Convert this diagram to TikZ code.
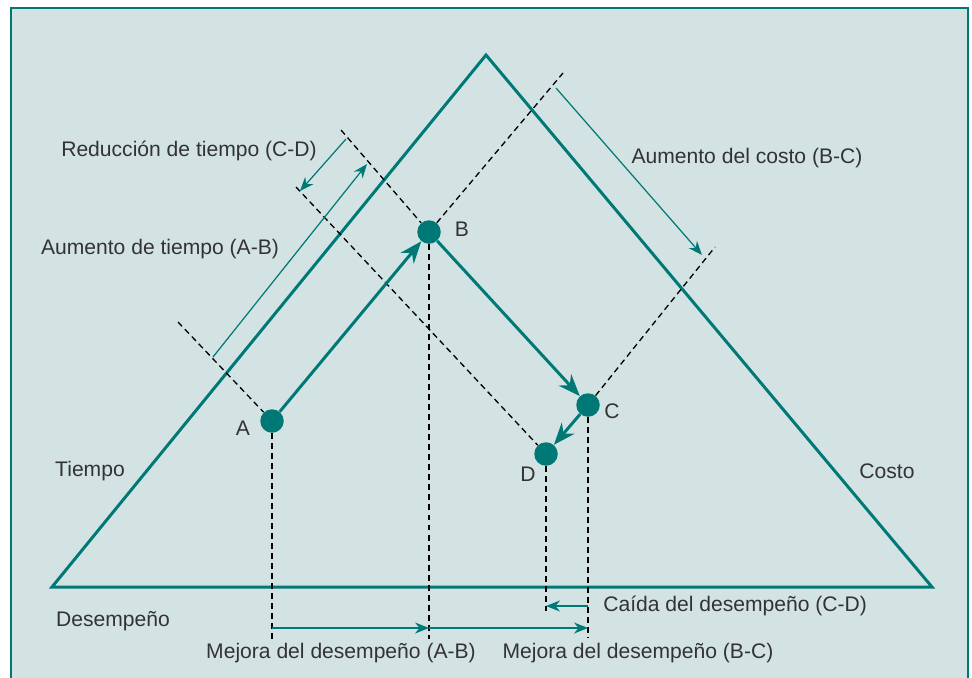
\documentclass[tikz,border=0pt]{standalone}
\usepackage{fontspec}
\setmainfont{Liberation Sans}
\usetikzlibrary{arrows.meta, positioning}
\definecolor{petrol}{RGB}{0,120,118}
\definecolor{panel}{RGB}{211,227,227}
\definecolor{ink}{RGB}{51,51,51}
\tikzset{
	x=0.02cm, y=-0.02cm,
	dot/.style={circle, fill=petrol, minimum size=0.47cm, inner sep=0pt},
	lbl/.style={text=ink, font=\fontsize{12}{14}\selectfont, inner sep=0pt},
	guide/.style={line width=0.75pt, dash pattern=on 3.4pt off 2.3pt},
	move/.style={petrol, line width=1.7pt, -{Stealth[length=0.44cm, width=0.34cm]}},
	dimarrow/.style={petrol, line width=0.7pt, -{Stealth[length=0.28cm, width=0.22cm]}}}

\begin{document}
\begin{tikzpicture}
	\useasboundingbox (0,0) rectangle (972,677);
	\fill[white] (0,0) rectangle (972,677);
	\filldraw[fill=panel, draw=petrol, line width=0.8pt] (11,8) rectangle (968,700);
	
	% triangle
	\draw[petrol, line width=1.7pt, line join=miter] (52,587) -- (486,55) -- (932,587) -- cycle;
	
	\node[dot] (A) at (272,421) {};
	\node[dot] (B) at (429,232) {};
	\node[dot] (C) at (588,405) {};
	\node[dot] (D) at (546,454) {};
	\node[lbl] (la) at (243,428) {A};
	\node[lbl] (lb) at (462,229) {B};
	\node[lbl] (lc) at (612,411) {C};
	\node[lbl] (ld) at (528,474) {D};
	
	% guide ends
	\coordinate (a-top) at (178,322);
	\coordinate (b-top) at (341,130);
	\coordinate (b-end) at (563,73);
	\coordinate (d-top) at (296,187);
	\coordinate (c-end) at (715,247);
	\coordinate (a-low) at (272,639);
	\coordinate (b-low) at (429,639);
	\coordinate (c-low) at (588,638);
	\coordinate (d-low) at (546,611);
	
	\draw[guide] (a-top) -- (A);
	\draw[guide] (b-top) -- (B);
	\draw[guide] (B) -- (b-end);
	\draw[guide] (d-top) -- (D);
	\draw[guide] (C) -- (c-end);
	\draw[guide] (A) -- (a-low);
	\draw[guide] (B) -- (b-low);
	\draw[guide] (C) -- (c-low);
	\draw[guide] (D) -- (d-low);
	
	\draw[move] (A) -- (B);
	\draw[move] (B) -- (C);
	\draw[move] (C) -- (D);
	
	% measures
	\coordinate (t1s) at (213,357);
	\coordinate (t1e) at (367,164);
	\coordinate (t2s) at (346,139);
	\coordinate (t2e) at (300,191);
	\coordinate (k1s) at (556,88);
	\coordinate (k1e) at (702,255);
	\coordinate (ma) at (272,628);
	\coordinate (mb) at (429,628);
	\coordinate (mc) at (588,628);
	\coordinate (fc) at (588,606);
	\coordinate (fd) at (546,606);
	
	\draw[dimarrow] (t1s) -- (t1e);
	\draw[dimarrow] (t2s) -- (t2e);
	\draw[dimarrow] (k1s) -- (k1e);
	\draw[dimarrow] (ma) -- (mb);
	\draw[dimarrow] (mb) -- (mc);
	\draw[dimarrow] (fc) -- (fd);
	
	\node[lbl] (red) at (189,151) {Reducción de tiempo (C-D)};
	\node[lbl] (aum) at (160,249) {Aumento de tiempo (A-B)};
	\node[lbl] (cos) at (747,158) {Aumento del costo (B-C)};
	\node[lbl] (tie) at (90,471) {Tiempo};
	\node[lbl] (cst) at (887,471) {Costo};
	\node[lbl] (des) at (113,621) {Desempeño};
	\node[lbl] (mab) at (341,653) {Mejora del desempeño (A-B)};
	\node[lbl] (mbc) at (638,653) {Mejora del desempeño (B-C)};
	\node[lbl, anchor=west] (cai) at (603,606) {Caída del desempeño (C-D)};
\end{tikzpicture}
\end{document}
